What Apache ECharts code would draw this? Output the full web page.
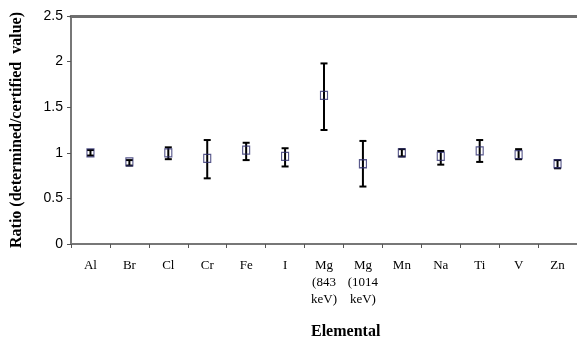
<!DOCTYPE html>
<html>
<head>
<meta charset="utf-8">
<script src="https://cdn.jsdelivr.net/npm/echarts@6/dist/echarts.min.js"></script>
<style>
  html, body { margin: 0; padding: 0; background: #fff; }
  #chart { width: 577px; height: 341px; }
</style>
</head>
<body>
<div id="chart"></div>
<script>
// 元素类别
const elements = ["Al", "Br", "Cl", "Cr", "Fe", "I", "Mg\n(843\nkeV)", "Mg\n(1014\nkeV)", "Mn", "Na", "Ti", "V", "Zn"];
// 比值 (测定值/认证值)
const ratios = [1.0, 0.9, 1.0, 0.94, 1.03, 0.96, 1.63, 0.88, 1.0, 0.96, 1.02, 0.98, 0.88];
// 误差棒上下限
const errLow = [0.97, 0.86, 0.93, 0.72, 0.92, 0.85, 1.25, 0.63, 0.96, 0.87, 0.9, 0.93, 0.83];
const errHigh = [1.03, 0.92, 1.06, 1.14, 1.11, 1.05, 1.98, 1.13, 1.04, 1.02, 1.14, 1.04, 0.92];
const yTicks = [0, 0.5, 1, 1.5, 2, 2.5];

const chart = echarts.init(document.getElementById("chart"));

const errData = elements.map((e, i) => [i, errLow[i], errHigh[i]]);

const option = {
	animation: false,
	grid: { left: 71, top: 16, right: -9, bottom: 97 },
	graphic: [
		{
			type: "text",
			left: 311,
			top: 324,
			style: {
				text: "Elemental",
				font: "bold 16px 'Liberation Serif'",
				fill: "#000",
			},
		},
	],
	xAxis: [
		{
			type: "category",
			data: elements,
			axisLine: { lineStyle: { color: "#777", width: 2 } },
			axisTick: { show: true, interval: 0, length: 4, lineStyle: { color: "#555", width: 1 } },
			axisLabel: {
				interval: 0,
				hideOverlap: false,
				color: "#000",
				fontFamily: "Liberation Serif",
				fontSize: 13,
				lineHeight: 17,
				margin: 13,
				verticalAlign: "top",
			},
		},
		{
			type: "category",
			position: "top",
			data: elements,
			axisLine: { lineStyle: { color: "#6e6e6e", width: 3 } },
			axisTick: { show: false },
			axisLabel: { show: false },
		},
	],
	yAxis: {
		type: "value",
		min: 0,
		max: 2.5,
		interval: 0.5,
		name: "Ratio (determined/certified  value)",
		nameLocation: "middle",
		nameGap: 46,
		nameTextStyle: {
			fontFamily: "Liberation Serif",
			fontWeight: "bold",
			fontSize: 16,
			color: "#000",
		},
		axisLine: { show: true, lineStyle: { color: "#777", width: 2 } },
		axisTick: { show: true, length: 4, lineStyle: { color: "#555" } },
		splitLine: { show: false },
		axisLabel: {
			color: "#000",
			fontFamily: "Liberation Sans",
			fontSize: 14,
			margin: 8,
			formatter: (v) => (yTicks.includes(v) ? String(v) : ""),
		},
	},
	series: [
		{
			name: "误差",
			type: "custom",
			data: errData,
			renderItem: function (params, api) {
				const x = api.value(0);
				const lo = api.coord([x, api.value(1)]);
				const hi = api.coord([x, api.value(2)]);
				const half = 3.5;
				const st = { stroke: "#000", lineWidth: 2 };
				return {
					type: "group",
					children: [
						{ type: "line", shape: { x1: lo[0], y1: lo[1], x2: hi[0], y2: hi[1] }, style: st },
						{ type: "line", shape: { x1: lo[0] - half, y1: lo[1], x2: lo[0] + half, y2: lo[1] }, style: st },
						{ type: "line", shape: { x1: hi[0] - half, y1: hi[1], x2: hi[0] + half, y2: hi[1] }, style: st },
					],
				};
			},
			z: 2,
		},
		{
			name: "比值",
			type: "scatter",
			data: ratios,
			symbol: "rect",
			symbolSize: [7, 8],
			itemStyle: {
				color: "rgba(255,255,255,0)",
				borderColor: "#2e2e6e",
				borderWidth: 1.2,
			},
			z: 3,
		},
	],
};

chart.setOption(option);
</script>
</body>
</html>
